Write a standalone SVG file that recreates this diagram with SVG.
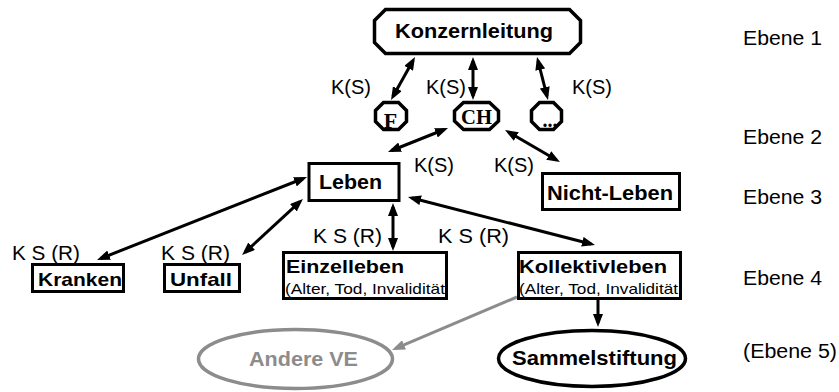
<svg xmlns="http://www.w3.org/2000/svg" width="839" height="392" viewBox="0 0 839 392">
<style>
.box{fill:#fff;stroke:#000;stroke-width:3}
.oct{fill:#fff;stroke:#000;stroke-width:3.5;stroke-linejoin:miter}
.b{font-family:"Liberation Sans",Arial,sans-serif;font-weight:bold;fill:#000}
.r{font-family:"Liberation Sans",Arial,sans-serif;fill:#000}
.s{font-family:"Liberation Serif","Times New Roman",serif;font-weight:bold;fill:#000}
.c{fill:none;stroke:#000;stroke-width:3}
.g{fill:none;stroke:#8c8c8c;stroke-width:3}
</style>
<defs>
<marker id="ah" viewBox="0 0 13 10" refX="9" refY="5" markerWidth="13" markerHeight="10" markerUnits="userSpaceOnUse" orient="auto-start-reverse"><path d="M0,0 L13,5 L0,10 z" fill="#000"/></marker>
<marker id="ahg" viewBox="0 0 13 10" refX="9" refY="5" markerWidth="13" markerHeight="10" markerUnits="userSpaceOnUse" orient="auto-start-reverse"><path d="M0,0 L13,5 L0,10 z" fill="#8c8c8c"/></marker>
</defs>
<rect width="839" height="392" fill="#fff"/>
<g id="connectors">
<line class="c" x1="413.05" y1="60.5" x2="392.95" y2="96.5" marker-start="url(#ah)" marker-end="url(#ah)"/>
<line class="c" x1="473" y1="61" x2="473" y2="96" marker-start="url(#ah)" marker-end="url(#ah)"/>
<line class="c" x1="538" y1="60.9" x2="547" y2="96.1" marker-start="url(#ah)" marker-end="url(#ah)"/>
<line class="c" x1="391.7" y1="150.5" x2="444.3" y2="129.5" marker-start="url(#ah)" marker-end="url(#ah)"/>
<line class="c" x1="508.5" y1="132" x2="556.5" y2="160" marker-start="url(#ah)" marker-end="url(#ah)"/>
<line class="c" x1="303.3" y1="178.5" x2="100.7" y2="258.5" marker-start="url(#ah)" marker-end="url(#ah)"/>
<line class="c" x1="300" y1="201.7" x2="245" y2="252.3" marker-start="url(#ah)" marker-end="url(#ah)"/>
<line class="c" x1="393" y1="207" x2="393" y2="247" marker-start="url(#ah)" marker-end="url(#ah)"/>
<line class="c" x1="411.9" y1="198" x2="591.1" y2="244" marker-start="url(#ah)" marker-end="url(#ah)"/>
<line class="c" x1="598" y1="297" x2="598" y2="323" marker-end="url(#ah)"/>
<line class="g" x1="517" y1="297" x2="395.7" y2="348.4" marker-end="url(#ahg)"/>
<text class="r" x="331" y="94" font-size="20">K(S)</text>
<text class="r" x="426" y="94" font-size="20">K(S)</text>
<text class="r" x="572" y="94" font-size="20">K(S)</text>
<text class="r" x="414" y="172" font-size="20">K(S)</text>
<text class="r" x="494" y="172" font-size="20">K(S)</text>
<text class="r" x="12" y="260" font-size="20" textLength="68" lengthAdjust="spacingAndGlyphs">K S (R)</text>
<text class="r" x="161" y="260" font-size="20" textLength="69" lengthAdjust="spacingAndGlyphs">K S (R)</text>
<text class="r" x="313" y="243" font-size="20" textLength="69" lengthAdjust="spacingAndGlyphs">K S (R)</text>
<text class="r" x="438" y="243" font-size="20" textLength="71" lengthAdjust="spacingAndGlyphs">K S (R)</text>
</g>
<g id="konzernleitung">
<path class="oct" d="M385.5,9.5 L569.5,9.5 L580.5,20.5 L580.5,42.5 L569.5,53.5 L385.5,53.5 L374.5,42.5 L374.5,20.5 Z"/>
<text class="b" x="395" y="38" font-size="21" textLength="158" lengthAdjust="spacingAndGlyphs">Konzernleitung</text>
</g>
<g id="f">
<path class="oct" d="M383.5,102.5 L398.5,102.5 L406.5,110.5 L406.5,121.5 L398.5,129.5 L383.5,129.5 L375.5,121.5 L375.5,110.5 Z"/>
<text class="s" x="390.5" y="128" font-size="22" text-anchor="middle">F</text>
</g>
<g id="ch">
<path class="oct" d="M463.5,102.5 L489.5,102.5 L498.5,111 L498.5,121 L489.5,129.5 L463.5,129.5 L454.5,121 L454.5,111 Z"/>
<text class="s" x="461" y="124" font-size="22" textLength="31" lengthAdjust="spacingAndGlyphs">CH</text>
</g>
<g id="dots">
<path class="oct" d="M539.5,102.5 L553.5,102.5 L561.5,110.5 L561.5,121.5 L553.5,129.5 L539.5,129.5 L531.5,121.5 L531.5,110.5 Z"/>
<text class="s" x="550" y="127" font-size="20" text-anchor="middle">...</text>
</g>
<g id="leben">
<rect class="box" x="309" y="163.5" width="90" height="37" stroke-width="3.5"/>
<text class="b" x="319" y="189" font-size="21" textLength="63" lengthAdjust="spacingAndGlyphs">Leben</text>
</g>
<g id="nichtleben">
<rect class="box" x="542.5" y="173.5" width="137" height="36" stroke-width="3.5"/>
<text class="b" x="547" y="200" font-size="21" textLength="126" lengthAdjust="spacingAndGlyphs">Nicht-Leben</text>
</g>
<g id="kranken">
<rect class="box" x="32.5" y="264.5" width="91" height="27"/>
<text class="b" x="38" y="285.5" font-size="19" textLength="84" lengthAdjust="spacingAndGlyphs">Kranken</text>
</g>
<g id="unfall">
<rect class="box" x="164.5" y="264.5" width="75" height="27"/>
<text class="b" x="170" y="285.5" font-size="19" textLength="62" lengthAdjust="spacingAndGlyphs">Unfall</text>
</g>
<g id="einzelleben">
<rect class="box" x="283.5" y="252.5" width="163" height="46" stroke-width="2.5"/>
<text class="b" x="286" y="273" font-size="19" textLength="118" lengthAdjust="spacingAndGlyphs">Einzelleben</text>
<text class="r" x="285" y="294" font-size="15" textLength="160" lengthAdjust="spacingAndGlyphs">(Alter, Tod, Invalidität</text>
</g>
<g id="kollektivleben">
<rect class="box" x="518.5" y="252.5" width="162" height="46" stroke-width="2.5"/>
<text class="b" x="519" y="273" font-size="19" textLength="148" lengthAdjust="spacingAndGlyphs">Kollektivleben</text>
<text class="r" x="519" y="294" font-size="15" textLength="159" lengthAdjust="spacingAndGlyphs">(Alter, Tod, Invalidität</text>
</g>
<g id="anderve">
<ellipse cx="295.5" cy="359" rx="97" ry="29.5" fill="#fff" stroke="#8c8c8c" stroke-width="3.5"/>
<text class="b" x="249" y="366" font-size="20" style="fill:#8c8c8c" textLength="109" lengthAdjust="spacingAndGlyphs">Andere VE</text>
</g>
<g id="sammelstiftung">
<ellipse cx="592" cy="358.5" rx="93.5" ry="28" fill="#fff" stroke="#000" stroke-width="3.5"/>
<text class="b" x="512" y="365" font-size="20" textLength="165" lengthAdjust="spacingAndGlyphs">Sammelstiftung</text>
</g>
<g id="levels">
<text class="r" x="743" y="45" font-size="20" textLength="79" lengthAdjust="spacingAndGlyphs">Ebene 1</text>
<text class="r" x="743" y="144" font-size="20" textLength="79" lengthAdjust="spacingAndGlyphs">Ebene 2</text>
<text class="r" x="743" y="204" font-size="20" textLength="79" lengthAdjust="spacingAndGlyphs">Ebene 3</text>
<text class="r" x="743" y="285" font-size="20" textLength="79" lengthAdjust="spacingAndGlyphs">Ebene 4</text>
<text class="r" x="743" y="358" font-size="20" textLength="94" lengthAdjust="spacingAndGlyphs">(Ebene 5)</text>
</g>
</svg>
